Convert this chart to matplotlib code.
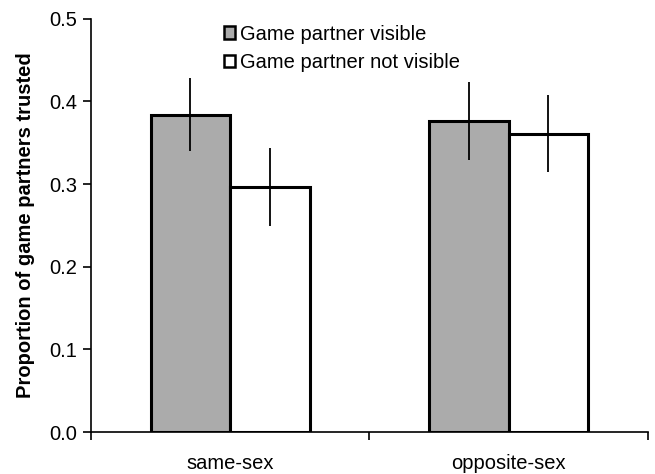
import matplotlib
matplotlib.use("Agg")
import matplotlib.pyplot as plt
import numpy as np
from matplotlib.patches import Patch

plt.rcParams['font.family'] = ['Liberation Sans', 'DejaVu Sans']

categories = ["same-sex", "opposite-sex"]
series_names = ["Game partner visible", "Game partner not visible"]
visible = [0.384, 0.376]
visible_err = [0.044, 0.047]
not_visible = [0.296, 0.361]
not_visible_err = [0.047, 0.047]
yticks = [0.0, 0.1, 0.2, 0.3, 0.4, 0.5]

fig = plt.figure(figsize=(6.55, 4.74), dpi=100)
ax = fig.add_axes([0.139, 0.0886, 0.850, 0.872])

x = np.arange(len(categories))
w = 0.286
ax.bar(x - w/2, visible, width=w, color="#ababab", edgecolor="black", linewidth=2.2, zorder=2)
ax.bar(x + w/2, not_visible, width=w, color="white", edgecolor="black", linewidth=2.2, zorder=2)
ax.errorbar(x - w/2, visible, yerr=visible_err, fmt="none", ecolor="black", elinewidth=1.3, capsize=0, zorder=3)
ax.errorbar(x + w/2, not_visible, yerr=not_visible_err, fmt="none", ecolor="black", elinewidth=1.3, capsize=0, zorder=3)

fs = 14.5
ax.set_xlim(-0.5, 1.5)
ax.set_ylim(0, 0.5)
ax.set_yticks(yticks)
ax.set_yticklabels([f"{v:.1f}" for v in yticks], fontsize=fs)
ax.set_xticks([-0.5, 0.5, 1.5])
ax.set_xticklabels([])
ax.set_xticks(x, minor=True)
ax.set_xticklabels(categories, minor=True, fontsize=fs)
ax.tick_params(axis='x', which='minor', length=0, pad=16)
ax.tick_params(axis='x', which='major', direction='out', length=6, width=1.2)
ax.tick_params(axis='y', direction='out', length=6, width=1.2, pad=4)
for s in ["top", "right"]:
    ax.spines[s].set_visible(False)
for s in ["left", "bottom"]:
    ax.spines[s].set_linewidth(1.2)

ax.set_ylabel("Proportion of game partners trusted", fontsize=fs, fontweight="bold", labelpad=10)

handles = [Patch(facecolor="#ababab", edgecolor="black", linewidth=1.8),
           Patch(facecolor="white", edgecolor="black", linewidth=1.8)]
ax.legend(handles, series_names, loc="upper left", bbox_to_anchor=(0.224, 1.005),
          frameon=False, fontsize=fs, handlelength=0.55, handleheight=0.55,
          handletextpad=0.25, labelspacing=0.45, borderaxespad=0)

fig.savefig("out.png", dpi=100)
